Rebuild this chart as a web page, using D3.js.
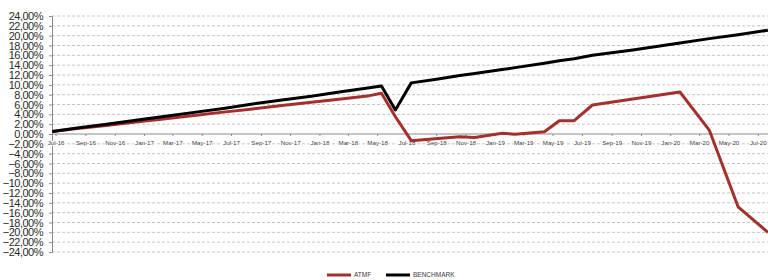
<!DOCTYPE html>
<html>
<head>
<meta charset="utf-8">
<script src="https://cdn.jsdelivr.net/npm/d3@7"></script>
<style>
  html, body { margin: 0; padding: 0; background: #fff; }
  svg { display: block; }
</style>
</head>
<body>
<div id="chart"></div>
<script>
'use strict';

// ------------ DATA ---------------- //

const DATES = [
    '2016-06-24', '2016-08-15', '2016-10-15', '2016-12-15', '2017-02-15',
    '2017-04-15', '2017-06-15', '2017-08-15', '2017-10-15', '2017-12-15',
    '2018-02-15', '2018-04-15', '2018-05-10', '2018-06-08', '2018-07-11',
    '2018-09-05', '2018-10-20', '2018-11-20', '2019-01-16', '2019-02-12',
    '2019-04-14', '2019-05-15', '2019-06-15', '2019-07-23', '2019-10-15',
    '2020-01-21', '2020-03-22', '2020-05-21', '2020-07-22'
];

const ATMF = [
    0.5, 1.1, 1.75, 2.45, 3.1,
    3.75, 4.45, 5.1, 5.8, 6.45,
    7.1, 7.8, 8.3, 3.5, -1.35,
    -0.9, -0.55, -0.7, 0.15, -0.05,
    0.45, 2.7, 2.7, 5.9, 7.1,
    8.55, 0.8, -14.8, -20.0
];

const BENCHMARK = [
    0.5, 1.2, 2.0, 2.8, 3.6,
    4.4, 5.2, 6.1, 6.9, 7.7,
    8.6, 9.4, 9.76, 4.9, 10.4,
    11.2, 11.9, 12.3, 13.1, 13.5,
    14.4, 14.9, 15.3, 16.0, 17.1,
    18.5, 19.4, 20.2, 21.1
];

const Y_TICKS = d3.range(-24, 25, 2);
const X_TICK_START = '2016-07-01';
const X_TICK_END   = '2020-07-01';

const SERIES = [
    {name: 'ATMF',      values: ATMF,      color: '#a3302c'},
    {name: 'BENCHMARK', values: BENCHMARK, color: '#000000'}
];

// ------------ DRAWING ---------------- //

const width  = 768;
const height = 280;
const parse  = d3.timeParse('%Y-%m-%d');

const drawChart = () => {
    const svg = d3.select('#chart')
        .append('svg')
        .attr('width', width)
        .attr('height', height);

    const left = 52;

    const x = d3.scaleTime()
        .domain([parse(X_TICK_START), parse(X_TICK_END)])
        .range([55.6, 757.8]);

    const y = d3.scaleLinear()
        .domain([-24, 24])
        .range([252, 16]);

    const fmt = v => d3.format('.2f')(v).replace('.', ',') + '%';

    // gridlines
    svg.append('g')
        .selectAll('line')
        .data(Y_TICKS.filter(v => v !== 0))
        .enter()
        .append('line')
        .attr('x1', left)
        .attr('x2', width)
        .attr('y1', d => y(d))
        .attr('y2', d => y(d))
        .attr('stroke', '#c4c4c4')
        .attr('stroke-width', 1)
        .attr('stroke-dasharray', '3,2');

    // y axis
    const yAxis = svg.append('g')
        .attr('transform', `translate(${left},0)`)
        .call(d3.axisLeft(y).tickValues(Y_TICKS).tickSize(3).tickFormat(fmt));
    yAxis.select('.domain').attr('stroke', '#8c8c8c');
    yAxis.selectAll('.tick line').attr('stroke', '#8c8c8c');
    yAxis.selectAll('text')
        .attr('x', -9)
        .attr('fill', '#2b2b2b')
        .style('font-family', 'Liberation Sans, Arial, sans-serif')
        .style('font-size', '11px')
        .style('letter-spacing', '-0.5px');

    // x axis
    const xTicks = d3.timeMonth.range(parse(X_TICK_START), d3.timeDay.offset(parse(X_TICK_END), 1), 2);
    const xAxis = svg.append('g')
        .attr('transform', `translate(0,${y(0)})`)
        .call(d3.axisBottom(x).tickValues(xTicks).tickSize(2).tickFormat(d3.timeFormat('%b-%y')));
    xAxis.select('.domain').remove();
    xAxis.insert('line', ':first-child')
        .attr('x1', left)
        .attr('x2', width)
        .attr('stroke', '#8c8c8c');
    xAxis.selectAll('.tick line').attr('stroke', '#8c8c8c');
    xAxis.selectAll('text')
        .attr('y', 7)
        .attr('fill', '#3a3a3a')
        .attr('stroke', '#fff')
        .attr('stroke-width', 2)
        .attr('paint-order', 'stroke')
        .style('font-family', 'Liberation Sans, Arial, sans-serif')
        .style('font-size', '6.2px');

    // lines
    const line = d3.line()
        .x((d, i) => x(parse(DATES[i])))
        .y(d => y(d));

    svg.append('g')
        .selectAll('path')
        .data(SERIES)
        .enter()
        .append('path')
        .attr('d', s => line(s.values))
        .attr('fill', 'none')
        .attr('stroke', s => s.color)
        .attr('stroke-width', 3)
        .attr('stroke-linejoin', 'round');

    // legend
    const legendX = [327, 386];
    const legend = svg.append('g')
        .selectAll('g')
        .data(SERIES)
        .enter()
        .append('g')
        .attr('transform', (s, i) => `translate(${legendX[i]},275)`);

    legend.append('line')
        .attr('x1', 0)
        .attr('x2', 24)
        .attr('stroke', s => s.color)
        .attr('stroke-width', 3);

    legend.append('text')
        .attr('x', 27)
        .attr('y', 2.3)
        .attr('fill', '#3a3a3a')
        .style('font-family', 'Liberation Sans, Arial, sans-serif')
        .style('font-size', '6.5px')
        .text(s => s.name);
};

document.addEventListener('DOMContentLoaded', drawChart);
</script>
</body>
</html>
